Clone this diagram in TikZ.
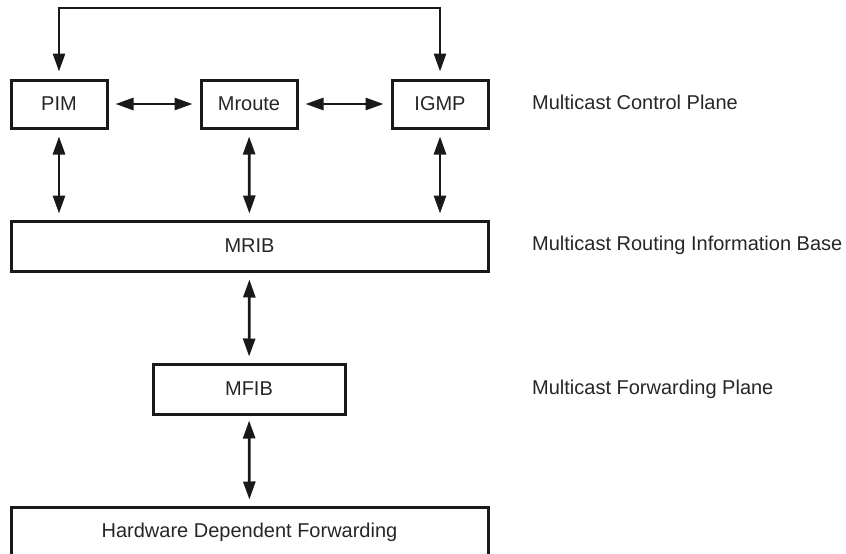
\documentclass[tikz,border=0pt]{standalone}
\usepackage{fontspec}
\setmainfont{Liberation Sans}
\usetikzlibrary{arrows.meta}

\begin{document}
\begin{tikzpicture}[x=1pt, y=-1pt, >={Triangle[length=18pt,width=12pt]},
  box/.style={draw=black!90, line width=3pt, inner sep=0pt, text=black!85,
    font=\fontsize{20}{24}\selectfont},
  link/.style={<->, line width=2.7pt, black!90},
  plane/.style={anchor=west, inner sep=0pt, text=black!85,
    font=\fontsize{20}{24}\selectfont}]
  \useasboundingbox (0,0) rectangle (846,554);

  \node[box, minimum width=96pt, minimum height=48pt]  (pim)    at (59,104)    {PIM};
  \node[box, minimum width=96pt, minimum height=48pt]  (mroute) at (249,104)   {Mroute};
  \node[box, minimum width=96pt, minimum height=48pt]  (igmp)   at (440,104)   {IGMP};
  \node[box, minimum width=477pt, minimum height=50pt] (mrib)   at (249.5,246) {MRIB};
  \node[box, minimum width=192pt, minimum height=50pt] (mfib)   at (249,389)   {MFIB};
  \node[box, minimum width=477pt, minimum height=50pt] (hw)     at (249.5,532) {Hardware Dependent Forwarding};

  \node[plane] (cplane) at (532,102) {Multicast Control Plane};
  \node[plane] (rplane) at (532,245) {Multicast Routing Information Base};
  \node[plane] (fplane) at (532,389) {Multicast Forwarding Plane};

  \coordinate (loop) at (0,8);

  % PIM <-> IGMP, over the top
  \draw[link, shorten <=7pt, shorten >=7pt] (pim.north) -- (pim.north |- loop) -| (igmp.north);

  % PIM <-> Mroute <-> IGMP
  \draw[link, shorten <=7pt, shorten >=7pt] (pim) -- (mroute);
  \draw[link, shorten <=7pt, shorten >=7pt] (mroute) -- (igmp);

  % control plane <-> MRIB
  \draw[link, shorten <=7pt, shorten >=6pt] (pim.south) -- (pim.south |- mrib.north);
  \draw[link, shorten <=7pt, shorten >=6pt] (mroute) -- (mrib);
  \draw[link, shorten <=7pt, shorten >=6pt] (igmp.south) -- (igmp.south |- mrib.north);

  % MRIB <-> MFIB <-> hardware
  \draw[link, shorten <=7pt, shorten >=6pt] (mrib) -- (mfib);
  \draw[link, shorten <=5pt, shorten >=6pt] (mfib) -- (hw);
\end{tikzpicture}
\end{document}
